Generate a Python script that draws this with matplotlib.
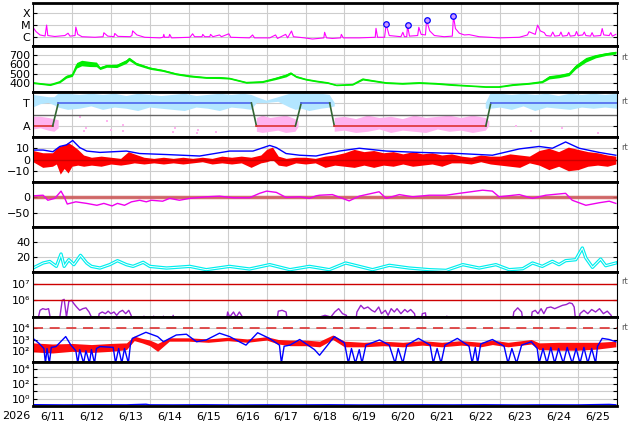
import matplotlib
matplotlib.use("Agg")
import matplotlib.pyplot as plt
from matplotlib.ticker import NullLocator
import numpy as np

nan = np.nan

# time axis: days since 6/11 00:00
day_labels = ["6/11", "6/12", "6/13", "6/14", "6/15", "6/16", "6/17", "6/18",
              "6/19", "6/20", "6/21", "6/22", "6/23", "6/24", "6/25"]
year_label = "2026"

# x-ray flux (log10 W/m2)
xray_t = [0.00, 0.08, 0.18, 0.31, 0.35, 0.38, 0.56, 0.82, 0.90, 0.95,
          1.08, 1.10, 1.15, 1.26, 1.59, 1.80, 1.82, 1.92, 2.08, 2.10,
          2.18, 2.49, 2.54, 2.56, 2.67, 2.87, 3.26, 3.34, 3.36, 3.38,
          3.49, 3.51, 3.56, 4.03, 4.10, 4.15, 4.34, 4.36, 4.41, 4.54,
          4.56, 4.62, 4.79, 4.84, 5.03, 5.08, 5.56, 5.64, 5.69, 6.08,
          6.23, 6.28, 6.49, 6.54, 6.64, 6.69, 6.97, 7.18, 7.47, 7.49,
          7.54, 7.69, 7.90, 7.92, 7.97, 8.38, 8.79, 8.81, 8.85, 9.03,
          9.07, 9.15, 9.45, 9.50, 9.54, 9.60, 9.62, 9.67, 9.88, 9.91,
          9.97, 10.08, 10.11, 10.19, 10.31, 10.56, 10.77, 10.80, 10.85, 10.95,
          11.08, 11.20, 11.46, 11.97, 12.49, 12.70, 12.74, 12.90, 12.96, 13.03,
          13.13, 13.18, 13.30, 13.35, 13.40, 13.52, 13.56, 13.60, 13.72, 13.76,
          13.80, 13.92, 13.96, 14.00, 14.12, 14.16, 14.20, 14.32, 14.36, 14.40,
          14.58, 14.62, 14.66, 14.80, 14.84, 14.88, 14.97]
xray_log = [-5.20, -5.57, -5.85, -5.94, -5.00, -5.90, -5.98, -5.90, -5.70, -5.95,
            -5.90, -5.17, -5.80, -6.00, -6.05, -6.00, -5.66, -5.95, -6.00, -5.72,
            -5.97, -6.00, -5.90, -5.50, -5.85, -6.05, -6.10, -6.05, -5.80, -6.05,
            -6.05, -5.80, -6.10, -6.05, -5.75, -6.00, -6.00, -5.80, -6.00, -6.00,
            -5.80, -6.00, -5.85, -6.00, -5.75, -6.05, -6.10, -5.85, -6.10, -6.10,
            -5.85, -6.15, -5.80, -6.10, -5.51, -6.00, -6.10, -6.20, -6.10, -5.62,
            -6.10, -6.15, -6.10, -5.80, -6.10, -6.10, -6.05, -5.28, -6.05, -6.05,
            -4.94, -5.90, -6.00, -5.62, -6.00, -6.00, -5.03, -5.95, -5.90, -5.19,
            -5.80, -5.85, -4.57, -5.50, -5.90, -6.00, -5.95, -4.22, -5.30, -5.70,
            -5.85, -5.82, -6.00, -6.10, -6.05, -5.85, -5.57, -5.80, -5.00, -5.50,
            -5.65, -5.90, -5.95, -5.60, -5.95, -5.90, -5.60, -5.95, -5.90, -5.62,
            -5.95, -5.90, -5.55, -5.90, -5.85, -5.60, -5.90, -5.95, -5.65, -5.95,
            -5.90, -5.30, -5.85, -5.90, -5.65, -5.95, -5.80]
flare_t = [9.07, 9.62, 10.11, 10.80]
flare_log = [-4.94, -5.03, -4.57, -4.22]

# solar wind speed (km/s) and scatter half-width
spd_t = [0.00, 0.44, 0.69, 0.86, 1.01, 1.12, 1.25, 1.45, 1.63, 1.72,
         1.89, 2.15, 2.40, 2.47, 2.65, 3.00, 3.34, 3.68, 4.03, 4.45,
         4.79, 5.05, 5.48, 5.90, 6.24, 6.50, 6.62, 6.76, 7.01, 7.27,
         7.57, 7.79, 8.21, 8.47, 8.73, 9.07, 9.49, 9.92, 10.35, 10.78,
         11.20, 11.63, 11.97, 12.32, 12.74, 13.08, 13.26, 13.51, 13.77, 13.94,
         14.20, 14.45, 14.71, 14.97]
spd_v = [400, 378, 411, 467, 485, 590, 615, 605, 600, 559,
         584, 584, 633, 660, 607, 559, 533, 496, 473, 456,
         456, 448, 403, 411, 448, 480, 505, 467, 437, 418,
         400, 374, 381, 440, 422, 400, 392, 400, 392, 378,
         367, 356, 356, 378, 392, 411, 460, 473, 496, 574,
         650, 689, 712, 728]
spd_spread = [8, 8, 10, 15, 15, 30, 30, 28, 25, 15,
              15, 18, 20, 18, 15, 12, 10, 10, 10, 8,
              10, 8, 8, 8, 12, 15, 12, 10, 8, 8,
              8, 6, 6, 10, 8, 8, 8, 8, 8, 8,
              6, 6, 6, 8, 8, 10, 18, 18, 18, 22,
              25, 18, 15, 15]

# IMF sector: +1 toward, -1 away
imf_t = [0.00, 0.505, 0.65, 5.61, 5.74, 6.74, 6.89, 7.62, 7.74, 11.63, 11.76, 15.00]
imf_v = [-1, -1, 1, 1, -1, -1, 1, 1, -1, -1, 1, 1]
tw_t = [0.00, 0.20, 0.40, 0.55, 0.65, 0.90, 1.20, 1.50, 1.80, 2.10,
        2.40, 2.70, 3.00, 3.30, 3.60, 3.90, 4.20, 4.50, 4.80, 5.10,
        5.40, 5.61, 5.75, 6.00, 6.30, 6.60, 6.75, 6.90, 7.10, 7.40,
        7.62, 7.75, 7.80, 11.55, 11.63, 11.76, 12.00, 12.30, 12.60, 12.90,
        13.20, 13.50, 13.80, 14.10, 14.40, 14.70, 15.00]
tw_hi = [1.7, 1.6, 1.5, 1.5, 1.8, 1.8, 1.7, 1.8, 1.7, 1.8,
         1.6, 1.8, 1.7, 1.6, 1.7, 1.8, 1.6, 1.7, 1.8, 1.7,
         1.8, 1.7, 1.5, 1.2, 1.5, 1.8, 1.9, 1.9, 1.8, 1.8,
         1.7, 1.0, nan, nan, 1.0, 1.9, 1.8, 1.7, 1.8, 1.7,
         1.8, 1.6, 1.8, 1.7, 1.8, 1.7, 1.8]
tw_lo = [0.6, 0.9, 1.0, 0.8, 0.6, 0.4, 0.5, 0.7, 0.4, 0.6,
         0.5, 0.3, 0.6, 0.5, 0.4, 0.3, 0.6, 0.5, 0.3, 0.6,
         0.5, 0.4, 1.0, 1.0, 1.1, 0.6, 0.4, 0.5, 0.3, 0.5,
         0.6, 0.7, nan, nan, 0.5, 0.5, 0.6, 0.4, 0.7, 0.3,
         0.6, 0.5, 0.4, 0.6, 0.5, 0.6, 0.5]
aw_t = [0.00, 0.20, 0.40, 0.55, 0.66, 0.70, 5.66, 5.75, 5.90, 6.10,
        6.30, 6.50, 6.74, 6.82, 6.90, 7.68, 7.75, 8.00, 8.30, 8.60,
        8.90, 9.20, 9.50, 9.80, 10.10, 10.40, 10.70, 11.00, 11.30, 11.63,
        11.72]
aw_hi = [-0.2, -0.2, -0.3, -0.4, -0.5, nan, nan, -0.3, -0.1, -0.3,
         -0.2, -0.1, -0.4, -0.6, nan, nan, -0.3, -0.2, -0.4, -0.1,
         -0.3, -0.2, -0.4, -0.1, -0.3, -0.2, -0.1, -0.3, -0.1, -0.3,
         -0.6]
aw_lo = [-1.3, -1.2, -1.4, -1.5, -1.2, nan, nan, -1.5, -1.6, -1.5,
         -1.4, -1.6, -1.5, -1.1, nan, nan, -1.5, -1.4, -1.6, -1.5,
         -1.3, -1.6, -1.4, -1.5, -1.6, -1.3, -1.5, -1.4, -1.6, -1.4,
         -1.0]
spot_t = [1.20, 1.30, 1.35, 1.90, 2.00, 2.30, 2.32, 3.60, 3.65, 4.20,
          4.25, 4.70, 12.40, 12.80, 13.60, 14.50]
spot_v = [-0.2, -1.45, -1.2, -0.57, -1.3, -0.9, -1.4, -1.5, -1.2, -1.6,
          -1.3, -1.5, -1.0, -1.4, -1.2, -1.6]

# magnetic field Bt / Bz (nT)
bt_t = [0.00, 0.26, 0.51, 0.69, 0.86, 1.02, 1.20, 1.38, 1.72, 2.40,
        2.74, 3.43, 4.28, 5.05, 5.65, 6.08, 6.25, 6.50, 6.85, 7.27,
        7.36, 7.87, 8.38, 9.07, 9.92, 10.95, 11.80, 12.49, 13.00, 13.34,
        13.68, 14.03, 14.54, 14.97]
bt_v = [8.4, 8.4, 6.9, 11.6, 13.0, 16.9, 10.6, 7.5, 6.3, 7.5,
        5.3, 4.4, 3.1, 7.5, 7.5, 12.5, 10.6, 5.3, 3.8, 3.1,
        3.8, 7.5, 10.0, 7.5, 6.3, 5.3, 3.8, 9.4, 11.6, 10.0,
        15.6, 10.0, 6.3, 3.8]
bz_t = [0.00, 0.25, 0.50, 0.60, 0.70, 0.80, 0.90, 1.00, 1.15, 1.30,
        1.50, 1.75, 2.00, 2.25, 2.45, 2.60, 2.85, 3.10, 3.35, 3.60,
        3.85, 4.10, 4.35, 4.60, 4.85, 5.10, 5.35, 5.60, 5.85, 6.00,
        6.15, 6.30, 6.50, 6.75, 7.00, 7.25, 7.50, 7.75, 8.00, 8.25,
        8.50, 8.75, 9.00, 9.25, 9.50, 9.75, 10.00, 10.25, 10.50, 10.75,
        11.00, 11.25, 11.50, 11.75, 12.00, 12.25, 12.50, 12.75, 13.00, 13.25,
        13.50, 13.75, 14.00, 14.25, 14.50, 14.75, 14.97]
bz_lo = [-2, -7, -6, -4, -13, -8, -12, -6, -5, -6,
         -5, -6, -4, -5, -4, -3, -4, -3, -4, -3,
         -4, -3, -2, -4, -3, -4, -3, -7, -3, -2,
         0, -5, -6, -3, -4, -3, -7, -5, -6, -7,
         -5, -7, -5, -6, -4, -6, -5, -4, -6, -3,
         -3, -4, -2, -4, -5, -6, -7, -3, -5, -9,
         -6, -10, -9, -6, -5, -6, -4]
bz_hi = [8, 6, 6, 10, 12, 13, 15, 13, 9, 4,
         2, 3, 2, 1, 7, 5, 2, 1, 2, 1,
         2, 1, 2, 1, 3, 2, 3, 2, 4, 9,
         11, 3, 1, 2, 2, 1, 3, 4, 6, 9,
         7, 8, 6, 7, 5, 7, 5, 6, 4, 5,
         3, 2, 4, 3, 3, 5, 4, 3, 8, 10,
         7, 11, 9, 7, 6, 4, 3]

# Dst-like index (nT)
dst_t = [0.00, 0.26, 0.38, 0.56, 0.72, 0.80, 0.88, 1.10, 1.38, 1.64,
         1.82, 2.03, 2.17, 2.35, 2.53, 2.74, 2.91, 3.04, 3.33, 3.51,
         3.76, 4.03, 4.45, 4.79, 5.14, 5.56, 5.82, 6.00, 6.25, 6.50,
         6.85, 7.10, 7.27, 7.36, 7.69, 8.12, 8.38, 8.89, 9.07, 9.41,
         9.75, 10.18, 10.61, 10.95, 11.55, 11.80, 11.97, 12.49, 12.83, 13.17,
         13.68, 13.85, 14.20, 14.54, 14.80, 14.97]
dst_v = [3, 5, -11, -5, 18, 0, -23, -16, -21, -27,
         -21, -29, -21, -27, -16, -11, -16, -11, -14, -5,
         -11, -5, 0, 2, -3, -3, 11, 18, 14, -2,
         0, -5, 3, 5, 7, -13, 2, 16, -5, 7,
         0, 5, 5, 11, 21, 18, 0, 7, -5, 5,
         11, -11, -27, -19, -14, -21]

# proton density (cm^-3)
dens_t = [0.00, 0.26, 0.43, 0.60, 0.72, 0.80, 0.92, 1.05, 1.22, 1.38,
          1.50, 1.72, 1.97, 2.17, 2.40, 2.57, 2.83, 3.00, 3.43, 4.03,
          4.45, 5.05, 5.56, 6.08, 6.60, 7.10, 7.36, 7.61, 8.03, 8.38,
          8.72, 9.15, 9.66, 10.18, 10.61, 11.04, 11.46, 11.89, 12.23, 12.58,
          12.83, 13.08, 13.34, 13.51, 13.68, 13.94, 14.11, 14.20, 14.37, 14.58,
          14.71, 14.97]
dens_v = [5.3, 12, 14, 7.5, 24, 7.5, 16.4, 9.8, 22.2, 12,
          7.5, 5.3, 9.8, 15.1, 9.8, 7.5, 12.9, 7.5, 5.3, 7.5,
          3.1, 7.5, 4, 9.8, 3.1, 7.5, 5.3, 3.1, 12, 7.5,
          3.1, 8.9, 5.3, 3.1, 2.2, 9.8, 5.3, 9.8, 3.1, 4.4,
          12, 7.5, 14.2, 9.8, 15.1, 16.4, 32, 18.7, 6.2, 17.3,
          8.4, 12]

# electron fluence (log10)
pf_t = [0.10, 0.14, 0.18, 0.25, 0.33, 0.40, 0.44, 0.48,
        0.65, 0.69, 0.75, 0.80, 0.86, 0.92, 0.99, 1.05, 1.12, 1.20, 1.28, 1.36, 1.44, 1.50, 1.55,
        1.65, 1.70, 1.78, 1.86, 1.93, 2.00, 2.08, 2.15, 2.22, 2.30, 2.38, 2.46, 2.52, 2.58,
        2.80, 2.85, 2.90, 3.05, 3.10, 3.15, 3.30, 3.35, 3.40, 3.55, 3.60, 3.65,
        4.95, 5.00, 5.05, 5.15, 5.22, 5.30, 5.38, 5.42,
        6.25, 6.30, 6.40, 6.50, 6.55,
        7.30, 7.36, 7.50, 7.65, 7.75, 7.85, 7.95, 8.05, 8.10,
        8.28, 8.32, 8.42, 8.50, 8.60, 8.70, 8.78, 8.88, 8.95, 9.05,
        9.12, 9.20, 9.28, 9.35, 9.45, 9.55, 9.62, 9.70, 9.80, 9.85,
        9.95, 10.00, 10.08, 10.12, 10.60, 10.63, 10.66,
        12.30, 12.35, 12.45, 12.55, 12.60,
        12.78, 12.82, 12.90, 12.97, 13.05, 13.12, 13.20, 13.30, 13.40, 13.50,
        13.60, 13.70, 13.78, 13.85, 13.90, 13.95,
        14.00, 14.05, 14.15, 14.25, 14.35, 14.45, 14.55, 14.65, 14.75, 14.85, 14.90]
pf_log = [4.5, 5.0, 5.4, 5.5, 5.45, 5.5, 5.0, 4.5,
          4.5, 5.0, 6.0, 6.06, 5.0, 5.94, 6.0, 5.8, 5.6, 5.4, 5.5, 5.55, 5.3, 5.0, 4.5,
          4.5, 5.2, 5.3, 5.2, 5.35, 5.2, 5.3, 5.1, 5.3, 5.4, 5.2, 5.4, 5.1, 4.5,
          4.5, 5.05, 4.5, 4.5, 5.05, 4.5, 4.5, 5.05, 4.5, 4.5, 5.1, 4.5,
          4.5, 5.3, 5.0, 5.3, 5.0, 5.3, 5.0, 4.5,
          4.5, 5.35, 5.4, 5.3, 4.5,
          4.5, 5.0, 5.1, 5.0, 5.3, 5.5, 5.2, 5.1, 4.5,
          4.5, 5.3, 5.7, 5.5, 5.6, 5.4, 5.3, 5.6, 5.2, 5.4,
          5.1, 5.5, 5.3, 5.5, 5.2, 5.45, 5.3, 5.45, 5.2, 4.5,
          4.5, 5.2, 5.25, 4.5, 4.5, 5.05, 4.5,
          4.5, 5.3, 5.55, 5.3, 4.5,
          4.5, 5.3, 5.4, 5.2, 5.5, 5.2, 5.55, 5.6, 5.5, 5.6,
          5.7, 5.75, 5.85, 5.8, 5.6, 4.5,
          4.5, 5.2, 5.4, 5.2, 5.45, 5.3, 5.5, 5.2, 5.35, 5.1, 4.5]

# electron flux, two satellites (log10)
b8_t = [0.00, 0.15, 0.28, 0.32, 0.36, 0.42, 0.47, 0.59, 0.84, 0.97,
        1.10, 1.15, 1.20, 1.30, 1.36, 1.45, 1.50, 1.58, 1.63, 1.72,
        2.06, 2.12, 2.20, 2.28, 2.35, 2.45, 2.50, 2.55, 2.90, 3.20,
        3.35, 3.68, 3.94, 4.20, 4.45, 4.79, 5.05, 5.30, 5.47, 5.77,
        6.07, 6.33, 6.38, 6.45, 6.60, 6.85, 7.23, 7.36, 7.74, 8.00,
        8.10, 8.18, 8.28, 8.38, 8.45, 8.55, 8.90, 9.15, 9.30, 9.38,
        9.50, 9.60, 9.90, 10.20, 10.28, 10.38, 10.48, 10.58, 10.90, 11.20,
        11.28, 11.36, 11.42, 11.50, 11.80, 12.10, 12.20, 12.30, 12.42, 12.55,
        12.80, 12.95, 13.00, 13.10, 13.20, 13.30, 13.40, 13.50, 13.62, 13.72,
        13.85, 13.95, 14.05, 14.15, 14.25, 14.35, 14.45, 14.50, 14.62, 14.80,
        14.97]
b8_log = [3.10, 2.67, 2.20, 0.90, 2.20, 0.90, 2.30, 2.37, 3.26, 2.52,
          2.00, 0.90, 2.10, 0.90, 2.00, 0.90, 2.10, 0.90, 2.20, 2.37,
          2.30, 0.90, 2.20, 0.90, 2.20, 0.90, 2.50, 3.10, 3.64, 3.26,
          2.80, 3.40, 3.47, 2.80, 2.96, 3.56, 3.26, 2.80, 2.50, 3.60,
          3.10, 2.50, 0.90, 2.40, 2.50, 3.00, 2.10, 1.60, 3.26, 2.70,
          0.90, 2.20, 0.90, 2.10, 0.90, 2.50, 2.96, 2.50, 0.90, 2.20,
          0.90, 2.50, 3.10, 2.50, 0.90, 2.20, 0.90, 2.50, 3.10, 2.40,
          0.90, 2.30, 0.90, 2.60, 3.00, 2.40, 0.90, 2.20, 0.90, 2.50,
          2.80, 2.20, 0.90, 2.20, 0.90, 2.30, 0.90, 2.20, 0.90, 2.30,
          0.90, 2.20, 0.90, 2.30, 0.90, 2.20, 0.90, 2.40, 3.10, 3.00,
          2.80]
r8_t = [0.0, 0.5, 1.0, 1.5, 2.0, 2.4, 2.6, 2.8, 3.0, 3.2,
        3.5, 4.0, 4.5, 5.0, 5.5, 6.0, 6.3, 6.6, 7.0, 7.36,
        7.7, 8.0, 8.5, 9.0, 9.5, 10.0, 10.5, 11.0, 11.5, 11.8,
        12.2, 12.8, 13.0, 13.5, 14.0, 14.5, 14.97]
r8_mid = [2.3, 2.2, 2.3, 2.2, 2.3, 2.4, 3.1, 2.9, 2.7, 2.3,
          3.0, 3.0, 2.9, 3.05, 2.9, 3.1, 2.8, 2.7, 2.7, 2.6,
          3.2, 2.6, 2.55, 2.65, 2.55, 2.7, 2.55, 2.7, 2.55, 2.75,
          2.55, 2.8, 2.4, 2.4, 2.4, 2.45, 2.6]
r8_half = [0.4, 0.4, 0.35, 0.35, 0.35, 0.3, 0.2, 0.2, 0.25, 0.35,
           0.15, 0.15, 0.15, 0.15, 0.15, 0.15, 0.2, 0.25, 0.25, 0.25,
           0.2, 0.25, 0.2, 0.2, 0.2, 0.2, 0.2, 0.2, 0.2, 0.2,
           0.2, 0.2, 0.3, 0.35, 0.35, 0.3, 0.25]

# proton flux (log10)
b9_t = [0, 0.8, 1.6, 2.4, 2.9, 3.0, 3.6, 4.4, 5.2, 6.0,
        6.8, 7.6, 8.4, 9.2, 10.0, 10.8, 11.6, 12.4, 13.2, 14.0,
        14.8, 14.97]
b9_log = [-0.82, -0.85, -0.83, -0.84, -0.76, -0.84, -0.85, -0.83, -0.86, -0.84,
          -0.85, -0.83, -0.86, -0.85, -0.84, -0.85, -0.83, -0.86, -0.84, -0.85,
          -0.78, -0.84]

FIG_W, FIG_H = 634, 424
AX_LEFT, AX_RIGHT = 33, 617
PANEL_EDGES = [3, 46, 92, 137, 182, 227, 272, 317, 362, 406]
GRID = "#cdcdcd"
SUP = {"0": "\u2070", "2": "\u00b2", "3": "\u00b3", "4": "\u2074",
       "6": "\u2076", "7": "\u2077"}


def make_axes(fig):
    """Stack the nine panels on a shared time axis."""
    axes = []
    for top, bottom in zip(PANEL_EDGES[:-1], PANEL_EDGES[1:]):
        ax = fig.add_axes([AX_LEFT / FIG_W, 1 - bottom / FIG_H,
                           (AX_RIGHT - AX_LEFT) / FIG_W, (bottom - top) / FIG_H])
        ax.set_xlim(0, 15)
        ax.set_xticks(range(16))
        ax.tick_params(axis="x", length=0, labelbottom=False)
        ax.tick_params(axis="y", direction="in", length=3, right=True,
                       labelsize=8, pad=2)
        ax.grid(True, color=GRID, lw=0.8)
        ax.set_axisbelow(True)
        for side in ("top", "bottom"):
            ax.spines[side].set_linewidth(2)
        for side in ("left", "right"):
            ax.spines[side].set_linewidth(0.8)
        axes.append(ax)
    return axes


def power_label(exp):
    return "" if exp is None else "10" + SUP[str(exp)]


def log_ticks(ax, lo, hi, ticks, exps):
    ax.set_yscale("log")
    ax.set_ylim(lo, hi)
    ax.set_yticks(ticks)
    ax.set_yticklabels([power_label(e) for e in exps])
    ax.yaxis.set_minor_locator(NullLocator())


fig = plt.figure(figsize=(FIG_W / 100, FIG_H / 100), dpi=100)
axes = make_axes(fig)

# 1: x-ray
ax = axes[0]
ax.plot(xray_t, 10 ** np.array(xray_log), color="#ff00ff", lw=0.8)
ax.plot(flare_t, 10 ** np.array(flare_log), "o", ms=4, mfc="#cc99ff",
        mec="#0000ff", mew=0.9)
ax.set_yscale("log")
ax.set_ylim(10 ** -6.8, 10 ** -3.1)
ax.set_yticks([1e-6, 1e-5, 1e-4])
ax.set_yticklabels(["C", "M", "X"])
ax.yaxis.set_minor_locator(NullLocator())

# 2: wind speed
ax = axes[1]
v = np.array(spd_v)
s = np.array(spd_spread)
ax.fill_between(spd_t, v - s, v + s, color="#00ee00", lw=0)
ax.plot(spd_t, spd_v, color="#00ee00", lw=1)
ax.set_ylim(300, 800)
ax.set_yticks([400, 500, 600, 700])

# 3: IMF sector
ax = axes[2]
ax.fill_between(tw_t, tw_lo, tw_hi, color="#b3e6ff", lw=0)
ax.fill_between(aw_t, aw_lo, aw_hi, color="#ffb3f0", lw=0)
ax.plot(spot_t, spot_v, "s", ms=2, color="#ffb3f0", mew=0)
ax.axhline(0, color="#666666", lw=1)
for i in range(len(imf_t) - 1):
    v0, v1 = imf_v[i], imf_v[i + 1]
    if v0 != v1:
        col = "#336633"
    elif v0 > 0:
        col = "#4d66ee"
    else:
        col = "#dd3333"
    ax.plot(imf_t[i:i + 2], imf_v[i:i + 2], color=col, lw=1.2)
ax.set_ylim(-1.95, 1.95)
ax.set_yticks([-1, 1])
ax.set_yticklabels(["A", "T"])

# 4: Bt / Bz
ax = axes[3]
ax.plot(bt_t, bt_v, color="#0000ff", lw=1)
ax.fill_between(bz_t, bz_lo, bz_hi, color="#ff0000", lw=0)
ax.axhline(0, color="#cc0000", lw=1)
ax.set_ylim(-20, 20)
ax.set_yticks([-10, 0, 10])
ax.set_yticklabels(["\u221210", "0", "10"])

# 5: Dst
ax = axes[4]
ax.axhline(0, color="#cc5555", lw=2.5, alpha=0.85)
ax.plot(dst_t, dst_v, color="#ee00ee", lw=1)
ax.set_ylim(-96, 47)
ax.set_yticks([-50, 0])
ax.set_yticklabels(["\u221250", "0"])

# 6: density
ax = axes[5]
ax.plot(dens_t, dens_v, color="#00eeee", lw=2.4)
ax.plot(dens_t, dens_v, color="white", lw=0.7)
ax.set_ylim(0, 60)
ax.set_yticks([20, 40])

# 7: electron fluence
ax = axes[6]
ax.plot(pf_t, 10 ** np.array(pf_log), color="#9922cc", lw=1)
ax.axhline(1e6, color="#cc0000", lw=1)
ax.axhline(1e7, color="#cc0000", lw=1)
log_ticks(ax, 1e5, 10 ** 7.7, [1e6, 1e7], [6, 7])
ax.grid(False, axis="y")

# 8: electron flux
ax = axes[7]
mid = np.array(r8_mid)
half = np.array(r8_half)
ax.plot(b8_t, 10 ** np.array(b8_log), color="#0000ff", lw=1)
ax.fill_between(r8_t, 10 ** (mid - half), 10 ** (mid + half), color="#ff0000",
                lw=0, alpha=0.95)
ax.axhline(1e4, color="#dd3333", lw=1.2, dashes=(6, 4))
log_ticks(ax, 10, 1e5, [1e2, 1e3, 1e4], [2, 3, 4])

# 9: proton flux
ax = axes[8]
ax.plot(b9_t, 10 ** np.array(b9_log), color="#0000ff", lw=1)
log_ticks(ax, 0.1, 1e5, [1, 10, 100, 1e3, 1e4], [0, None, 2, None, 4])
ax.set_xticks(np.arange(15) + 0.5, minor=True)
ax.set_xticklabels(day_labels, minor=True)
ax.tick_params(axis="x", which="minor", length=0, labelbottom=True,
               labelsize=8, pad=4)

fig.text(16 / FIG_W, 1 - 416 / FIG_H, year_label, ha="center", va="center",
         fontsize=8)
for y in (57, 102, 147, 281, 327):
    fig.text(621 / FIG_W, 1 - y / FIG_H, "rt", ha="left", va="center",
             fontsize=6, color="#555555")

fig.savefig("out.png", dpi=100)
